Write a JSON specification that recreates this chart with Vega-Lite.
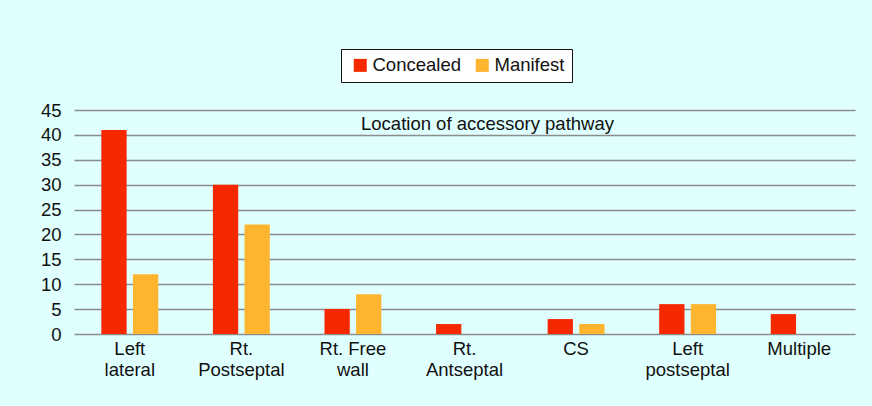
{
  "$schema": "https://vega.github.io/schema/vega-lite/v6.json",
  "autosize": "none",
  "width": 781,
  "height": 224,
  "padding": {"left": 74, "top": 110, "right": 17, "bottom": 72},
  "background": "#e0ffff",
  "title": {
    "text": "Location of accessory pathway",
    "orient": "top",
    "anchor": "middle",
    "offset": -85,
    "dx": 23,
    "font": "Liberation Sans",
    "fontSize": 18.5,
    "fontWeight": "normal",
    "color": "#111111"
  },
  "data": {
    "values": [
      {"location": "Left lateral", "type": "Concealed", "count": 41},
      {"location": "Left lateral", "type": "Manifest", "count": 12},
      {"location": "Rt. Postseptal", "type": "Concealed", "count": 30},
      {"location": "Rt. Postseptal", "type": "Manifest", "count": 22},
      {"location": "Rt. Free wall", "type": "Concealed", "count": 5},
      {"location": "Rt. Free wall", "type": "Manifest", "count": 8},
      {"location": "Rt. Antseptal", "type": "Concealed", "count": 2},
      {"location": "Rt. Antseptal", "type": "Manifest", "count": 0},
      {"location": "CS", "type": "Concealed", "count": 3},
      {"location": "CS", "type": "Manifest", "count": 2},
      {"location": "Left postseptal", "type": "Concealed", "count": 6},
      {"location": "Left postseptal", "type": "Manifest", "count": 6},
      {"location": "Multiple", "type": "Concealed", "count": 4},
      {"location": "Multiple", "type": "Manifest", "count": 0}
    ]
  },
  "mark": {"type": "bar"},
  "encoding": {
    "x": {
      "field": "location",
      "type": "nominal",
      "sort": null,
      "scale": {"paddingInner": 0.49, "paddingOuter": 0.245},
      "axis": {
        "title": null,
        "labelAngle": 0,
        "labelFont": "Liberation Sans",
        "labelFontSize": 18.5,
        "labelColor": "#111111",
        "labelPadding": 5,
        "labelLineHeight": 21,
        "labelBaseline": "top",
        "ticks": false,
        "domain": false,
        "labelExpr": "datum.value == 'Rt. Free wall' ? ['Rt. Free', 'wall'] : split(datum.value, ' ')"
      }
    },
    "xOffset": {
      "field": "type",
      "type": "nominal",
      "scale": {"paddingInner": 0.2, "paddingOuter": 0}
    },
    "y": {
      "field": "count",
      "type": "quantitative",
      "scale": {"domain": [0, 45]},
      "axis": {
        "title": null,
        "values": [0, 5, 10, 15, 20, 25, 30, 35, 40, 45],
        "labelFont": "Liberation Sans",
        "labelFontSize": 18.5,
        "labelColor": "#111111",
        "labelPadding": 13,
        "ticks": false,
        "domain": false,
        "grid": true,
        "gridColor": "#8c8c8c",
        "gridWidth": 1.5
      }
    },
    "color": {
      "field": "type",
      "type": "nominal",
      "scale": {"domain": ["Concealed", "Manifest"], "range": ["#f52800", "#fdb52f"]},
      "legend": {
        "title": null,
        "orient": "none",
        "legendX": 267,
        "legendY": -61,
        "direction": "horizontal",
        "columns": 2,
        "gridAlign": "all",
        "symbolType": "square",
        "symbolSize": 169,
        "symbolStrokeWidth": 0,
        "symbolOffset": 3,
        "labelFont": "Liberation Sans",
        "labelFontSize": 18.5,
        "labelColor": "#111111",
        "labelOffset": 3,
        "columnPadding": 9,
        "padding": 7,
        "strokeColor": "#111111",
        "fillColor": "#ffffff"
      }
    }
  },
  "config": {
    "view": {"stroke": null}
  }
}
